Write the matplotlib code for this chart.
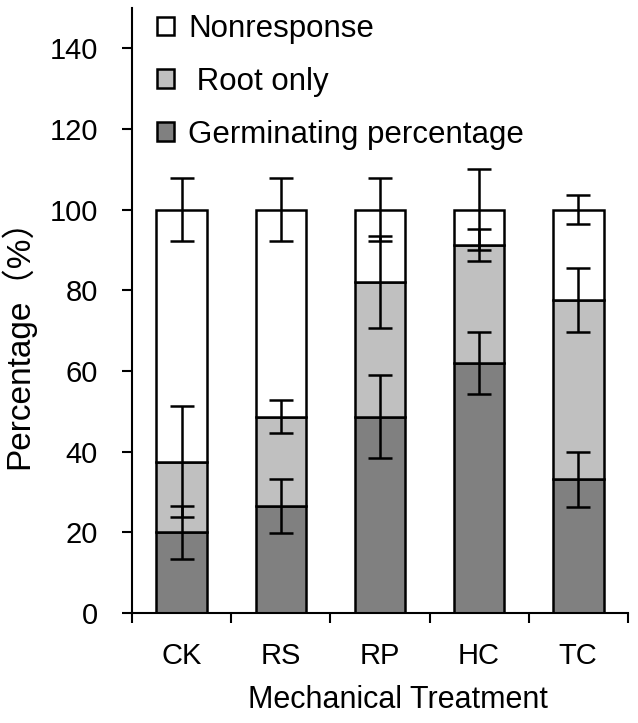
import numpy as np
import matplotlib
matplotlib.use("Agg")
import matplotlib.pyplot as plt
from matplotlib.patches import Patch

# Data (percent)
treatments = ["CK", "RS", "RP", "HC", "TC"]
germinating = [20.0, 26.5, 48.7, 62.0, 33.2]
root_only = [17.5, 22.2, 33.3, 29.2, 44.4]
nonresponse = [62.5, 51.3, 18.0, 8.8, 22.4]
germinating_err = [6.5, 6.7, 10.3, 7.8, 6.8]
root_only_err = [13.8, 4.0, 11.4, 4.0, 7.9]
nonresponse_err = [7.8, 7.8, 7.8, 10.0, 3.6]

plt.rcParams["font.family"] = ["Liberation Sans", "Noto Sans CJK SC", "DejaVu Sans"]

fig = plt.figure(figsize=(6.38, 7.23), dpi=100)
ax = fig.add_axes([0.207, 0.152, 0.777, 0.837])

x = np.arange(len(treatments))
width = 0.51
edge = dict(edgecolor="black", linewidth=1.8)

germ = np.array(germinating)
root = np.array(root_only)
non = np.array(nonresponse)

ax.bar(x, germ, width, color="#808080", **edge)
ax.bar(x, root, width, bottom=germ, color="#c0c0c0", **edge)
ax.bar(x, non, width, bottom=germ + root, color="white", **edge)

err_style = dict(fmt="none", ecolor="black", elinewidth=1.8, capsize=8.5, capthick=1.8, zorder=5)
ax.errorbar(x, germ, yerr=germinating_err, **err_style)
ax.errorbar(x, germ + root, yerr=root_only_err, **err_style)
ax.errorbar(x, germ + root + non, yerr=nonresponse_err, **err_style)

ax.set_xlim(-0.5, len(treatments) - 0.5)
ax.set_ylim(0, 150)
ax.set_yticks(np.arange(0, 141, 20))

# boundary ticks on x, labels centred under bars
ax.set_xticks(np.arange(-0.5, len(treatments), 1.0))
ax.set_xticklabels([])
ax.set_xticks(x, minor=True)
ax.set_xticklabels(treatments, minor=True)
ax.tick_params(axis="x", which="major", direction="out", length=7.5, width=1.5)
ax.tick_params(axis="x", which="minor", length=0, pad=21, labelsize=21)
ax.tick_params(axis="y", direction="out", length=7.5, width=1.5, labelsize=21, pad=17)

for side in ["top", "right"]:
    ax.spines[side].set_visible(False)
for side in ["left", "bottom"]:
    ax.spines[side].set_linewidth(1.5)

ax.set_xlabel("Mechanical Treatment", fontsize=22)
ax.xaxis.set_label_coords(0.536, -0.118)
ax.set_ylabel("Percentage（%）", fontsize=24)
ax.yaxis.set_label_coords(-0.195, 0.458)

handles = [
    Patch(facecolor="white", edgecolor="black", linewidth=1.8),
    Patch(facecolor="#c0c0c0", edgecolor="black", linewidth=1.8),
    Patch(facecolor="#808080", edgecolor="black", linewidth=1.8),
]
labels = ["Nonresponse", " Root only", "Germinating percentage"]
ax.legend(handles, labels, loc="upper left", bbox_to_anchor=(157 / 638, 1 - 14 / 723),
          bbox_transform=fig.transFigure, frameon=False, fontsize=22.5,
          handlelength=0.55, handleheight=0.55, handletextpad=0.45,
          labelspacing=0.73, borderpad=0, borderaxespad=0)

fig.savefig("out.png", dpi=100)
